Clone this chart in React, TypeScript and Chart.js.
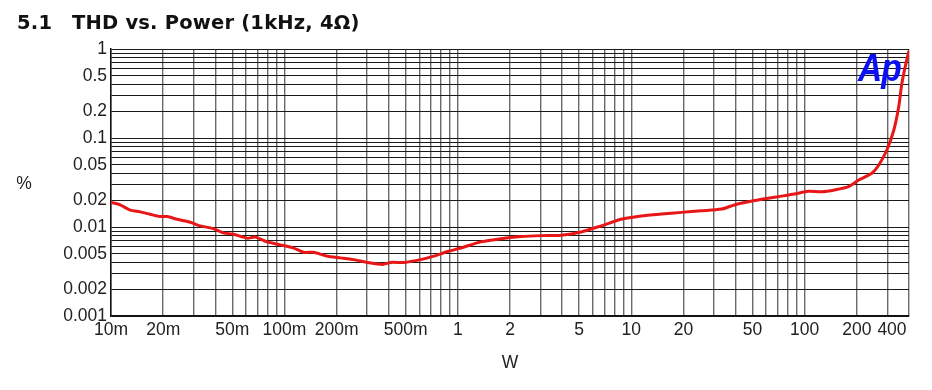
import React, { useEffect, useRef } from 'react';
import { Chart, registerables } from 'chart.js';

Chart.register(...registerables);

// Measured curve: output power (W) vs THD+N (%)
const powerW = [
  0.01, 0.0113, 0.0129, 0.0147, 0.0168, 0.0192, 0.0211, 0.0241, 0.0287, 0.0327,
  0.0389, 0.0444, 0.0507, 0.0611, 0.0679, 0.0797, 0.0948, 0.113, 0.129, 0.147,
  0.177, 0.211, 0.251, 0.302, 0.368, 0.41, 0.488, 0.611, 0.727, 0.875,
  1.04, 1.36, 1.77, 2.31, 3.02, 3.94, 5.14, 6.71, 8.75, 11.4,
  14.9, 19.5, 25.4, 33.1, 39.4, 51.4, 67.1, 87.5, 105, 125,
  149, 179, 205, 244, 268, 298, 327, 349, 364, 384, 400,
];
const thdPct = [
  0.0189, 0.0177, 0.0155, 0.0148, 0.0139, 0.0131, 0.0131, 0.0122, 0.0113, 0.0103,
  0.0096, 0.0086, 0.0083, 0.0075, 0.0077, 0.0068, 0.0063, 0.0058, 0.0052, 0.0052,
  0.0047, 0.0045, 0.0043, 0.0040, 0.0038, 0.0040, 0.0040, 0.0043, 0.0047, 0.0053,
  0.0058, 0.0068, 0.0074, 0.0078, 0.0080, 0.0081, 0.0088, 0.0103, 0.0122, 0.0133,
  0.0140, 0.0146, 0.0152, 0.0159, 0.0177, 0.0198, 0.0216, 0.0235, 0.0252, 0.0249,
  0.0261, 0.0284, 0.0337, 0.0401, 0.0497, 0.0733, 0.123, 0.225, 0.412, 0.69, 0.95,
];

const xLabelValues = [0.01, 0.02, 0.05, 0.1, 0.2, 0.5, 1, 2, 5, 10, 20, 50, 100, 200, 400];
const xLabelTexts = ['10m', '20m', '50m', '100m', '200m', '500m', '1', '2', '5', '10', '20', '50', '100', '200', '400'];
const yLabelValues = [0.001, 0.002, 0.005, 0.01, 0.02, 0.05, 0.1, 0.2, 0.5, 1];
const yLabelTexts = ['0.001', '0.002', '0.005', '0.01', '0.02', '0.05', '0.1', '0.2', '0.5', '1'];

const X_MIN = 0.01;
const X_MAX = 400;
const Y_MIN = 0.001;
const Y_MAX = 1;

const titleNumber = '5.1';
const titleText = 'THD vs. Power (1kHz, 4\u03A9)';
const yAxisTitle = '%';
const xAxisTitle = 'W';
const logoText = 'Ap';

function logGrid(min: number, max: number): number[] {
  const out: number[] = [];
  const e0 = Math.floor(Math.log10(min));
  const e1 = Math.ceil(Math.log10(max));
  for (let e = e0; e <= e1; e++) {
    for (let m = 1; m <= 9; m++) {
      const v = Number((m * Math.pow(10, e)).toPrecision(8));
      if (v >= min * (1 - 1e-9) && v <= max * (1 + 1e-9)) out.push(v);
    }
  }
  if (Math.abs(out[out.length - 1] - max) / max > 1e-9) out.push(max);
  return out;
}

function findLabel(values: number[], texts: string[], v: number): string {
  for (let i = 0; i < values.length; i++) {
    if (Math.abs(values[i] - v) / values[i] < 1e-6) return texts[i];
  }
  return '';
}

const decorPlugin = {
  id: 'decor',
  afterDraw(chart: any) {
    const ctx = chart.ctx;
    const area = chart.chartArea;
    ctx.save();
    // Title
    ctx.fillStyle = '#111';
    ctx.textBaseline = 'alphabetic';
    ctx.textAlign = 'left';
    ctx.font = 'bold 19.5px "DejaVu Sans"';
    try { (ctx as any).letterSpacing = '0.2px'; } catch (e) {}
    ctx.fillText(titleNumber, 17, 29);
    ctx.fillText(titleText, 72, 29);
    try { (ctx as any).letterSpacing = '0px'; } catch (e) {}
    // Axis titles
    ctx.font = '17.5px "Liberation Sans"';
    ctx.fillStyle = '#222';
    ctx.textAlign = 'center';
    ctx.textBaseline = 'middle';
    ctx.fillText(yAxisTitle, 24, 184);
    ctx.fillText(xAxisTitle, (area.left + area.right) / 2, 363);
    // Logo
    ctx.save();
    ctx.translate(858, 81);
    ctx.scale(0.86, 1);
    ctx.font = 'italic bold 39px "Liberation Sans"';
    ctx.fillStyle = '#0a10f2';
    ctx.textAlign = 'left';
    ctx.textBaseline = 'alphabetic';
    try { (ctx as any).letterSpacing = '-1px'; } catch (e) {}
    ctx.fillText(logoText, 0, 0);
    ctx.restore();
    ctx.restore();
  },
};

export default function App() {
  const ref = useRef<HTMLCanvasElement | null>(null);

  useEffect(() => {
    if (!ref.current) return;
    const points = powerW.map((x, i) => ({ x, y: thdPct[i] }));
    const xGrid = logGrid(X_MIN, X_MAX);
    const yGrid = logGrid(Y_MIN, Y_MAX);
    const chart = new Chart(ref.current, {
      type: 'line',
      data: {
        datasets: [
          {
            data: points,
            borderColor: 'rgb(232,22,22)',
            borderWidth: 3,
            pointRadius: 0,
            tension: 0.25,
            fill: false,
          },
        ],
      },
      options: {
        animation: false,
        responsive: false,
        devicePixelRatio: 1,
        layout: { padding: { left: 0, right: 23, top: 49, bottom: 0 } },
        plugins: {
          legend: { display: false },
          tooltip: { enabled: false },
          title: { display: false },
        },
        scales: {
          x: {
            type: 'logarithmic',
            min: X_MIN,
            max: X_MAX,
            afterBuildTicks: (scale: any) => {
              scale.ticks = xGrid.map((v) => ({ value: v }));
            },
            afterFit: (scale: any) => {
              scale.height = 74;
              scale.paddingLeft = 0;
              scale.paddingRight = 0;
            },
            grid: {
              color: '#6a6a6a',
              lineWidth: 1.4,
              drawTicks: false,
            },
            border: { display: true, color: '#111', width: 1.5 },
            ticks: {
              autoSkip: false,
              maxRotation: 0,
              minRotation: 0,
              padding: 4,
              color: '#222',
              font: { family: '"Liberation Sans"', size: 17.5 },
              callback: (v: any) => {
                const t = findLabel(xLabelValues, xLabelTexts, Number(v));
                if (t === '400') return '400' + '\u00a0'.repeat(7);
                return t;
              },
            },
          },
          y: {
            type: 'logarithmic',
            min: Y_MIN,
            max: Y_MAX,
            afterBuildTicks: (scale: any) => {
              scale.ticks = yGrid.map((v) => ({ value: v }));
            },
            afterFit: (scale: any) => {
              scale.width = 111;
              scale.paddingTop = 0;
              scale.paddingBottom = 0;
            },
            grid: {
              color: '#1a1a1a',
              lineWidth: 1,
              drawTicks: false,
            },
            border: { display: true, color: '#111', width: 1.5 },
            ticks: {
              autoSkip: false,
              padding: 4,
              color: '#222',
              font: { family: '"Liberation Sans"', size: 17.5 },
              callback: (v: any) => findLabel(yLabelValues, yLabelTexts, Number(v)),
            },
          },
        },
      },
      plugins: [decorPlugin],
    } as any);
    return () => chart.destroy();
  }, []);

  return (
    <div style={{ position: 'fixed', left: 0, top: 0, width: 932, height: 390, background: '#fff' }}>
      <canvas ref={ref} width={932} height={390} style={{ width: 932, height: 390, display: 'block' }} />
    </div>
  );
}
